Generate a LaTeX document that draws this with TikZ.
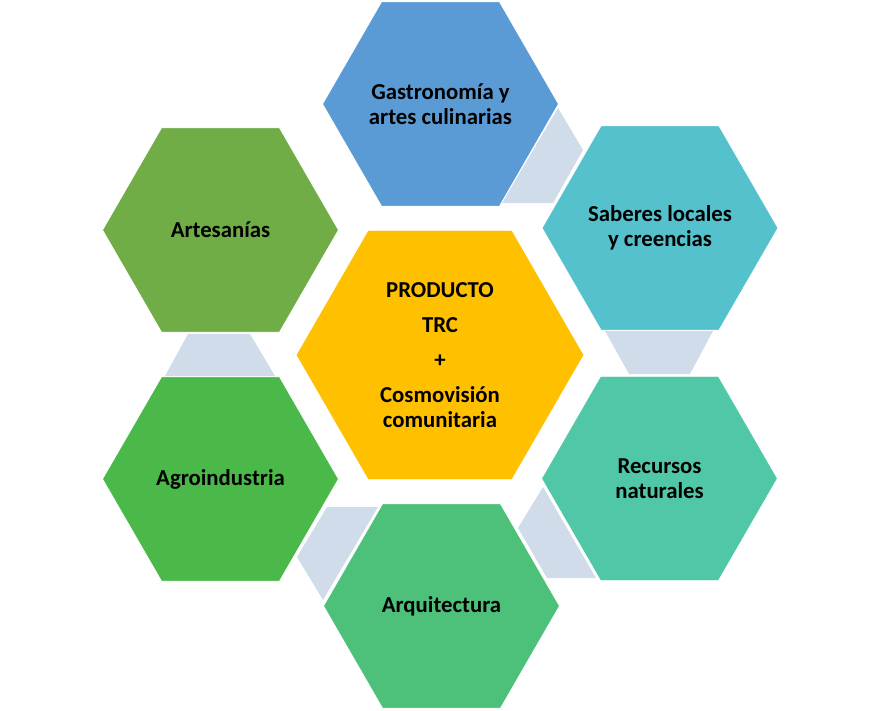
\documentclass[tikz,border=0pt]{standalone}
\usepackage{fontspec}
\setmainfont{Carlito}
\usetikzlibrary{shapes.geometric}

\definecolor{gastroblue}{RGB}{91,155,213}
\definecolor{saberesteal}{RGB}{84,193,204}
\definecolor{recursosgreen}{RGB}{80,199,166}
\definecolor{arquigreen}{RGB}{77,192,121}
\definecolor{agrogreen}{RGB}{75,185,74}
\definecolor{artesgreen}{RGB}{112,173,71}
\definecolor{hubyellow}{RGB}{255,192,0}
\definecolor{linkgray}{RGB}{208,220,234}

\tikzset{
    hexbox/.style={regular polygon, regular polygon sides=6, minimum size=5.9cm,
        inner sep=0pt, draw=white, line width=0.6pt, align=center,
        font=\fontsize{16.2}{17.7}\selectfont\bfseries},
    hubbox/.style={hexbox, minimum size=7.2cm},
    link/.style={fill=linkgray}
}

\begin{document}
\begin{tikzpicture}[x=0.025cm, y=-0.025cm]
        \useasboundingbox (0,0) rectangle (880,710);

        % Links between the outer hexagons
        \fill[link] (558,108) -- (583,150) -- (553,203) -- (502,203) -- cycle;
        \fill[link] (605,331) -- (713,331) -- (690,374) -- (629,374) -- cycle;
        \fill[link] (543,487) -- (596,578) -- (547,578) -- (518,528) -- cycle;
        \fill[link] (327,507) -- (378,507) -- (323,600) -- (297,557) -- cycle;
        \fill[link] (188,334) -- (250,334) -- (275,376) -- (165,376) -- cycle;

        % Outer hexagons
        \node[hexbox, fill=gastroblue] (gastro) at (440.5,104) {Gastronomía y\\artes culinarias};
        \node[hexbox, fill=saberesteal] (saberes) at (660,228) {Saberes locales\\y creencias};
        \node[hexbox, fill=recursosgreen] (recursos) at (659.5,478.5) {Recursos\\naturales};
        \node[hexbox, fill=arquigreen] (arqui) at (441.5,606) {Arquitectura};
        \node[hexbox, fill=agrogreen] (agro) at (220.5,479) {Agroindustria};
        \node[hexbox, fill=artesgreen] (artes) at (220.5,230) {Artesanías};

        % Center
        \node[hubbox, fill=hubyellow] (hub) at (440,355)
            {PRODUCTO\\[7.3pt] TRC\\[7.3pt] +\\[7.3pt] Cosmovisión\\comunitaria};
    \end{tikzpicture}
\end{document}
